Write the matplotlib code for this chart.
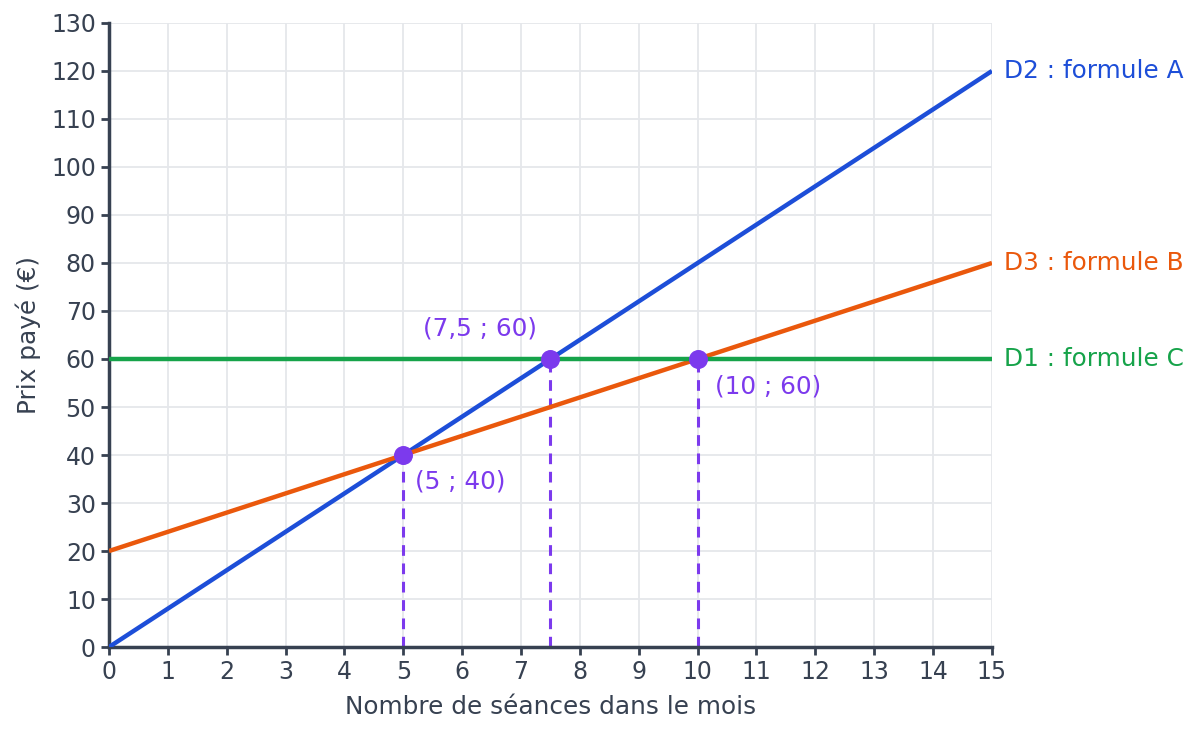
import numpy as np
import matplotlib
matplotlib.use('Agg')
import matplotlib.pyplot as plt

# Données
x_range = [0, 15]
droites = [
    ('D2 : formule A', 8, 0, '#1d4ed8'),
    ('D3 : formule B', 4, 20, '#ea580c'),
    ('D1 : formule C', 0, 60, '#16a34a'),
]
points_x = [5, 7.5, 10]
points_y = [40, 60, 60]
points_labels = ['(5 ; 40)', '(7,5 ; 60)', '(10 ; 60)']
label_pos = [(5.2, 34.4), (5.33, 66.3), (10.3, 54.2)]

axe_col = '#374151'
violet = '#7c3aed'
fs = 17.8

fig = plt.figure(figsize=(11.98, 7.34), dpi=100)
ax = fig.add_axes([0.091, 0.1185, 0.737, 0.8502])

xs = np.array(x_range)
for nom, a, b, col in droites:
    ys = a * xs + b
    ax.plot(xs, ys, color=col, lw=3.2, solid_capstyle='butt', zorder=3)
    ax.text(15.2, ys[-1], nom, color=col, fontsize=fs, va='center', ha='left', clip_on=False)

# pointillés verticaux vers l'axe des abscisses
for px, py in zip(points_x, points_y):
    ax.plot([px, px], [0, py], color=violet, lw=2.2, ls=(0, (3.5, 2.5)), zorder=2)
ax.scatter(points_x, points_y, s=160, color=violet, zorder=5)

for (lx, ly), txt in zip(label_pos, points_labels):
    ax.text(lx, ly, txt, color=violet, fontsize=fs, va='center', ha='left')

ax.set_xlim(0, 15)
ax.set_ylim(0, 130)
ax.set_xticks(range(0, 16))
ax.set_yticks(range(0, 131, 10))
ax.grid(True, color='#e5e7eb', lw=1.3, zorder=0)
ax.set_axisbelow(True)
for s in ['top', 'right']:
    ax.spines[s].set_visible(False)
for s in ['left', 'bottom']:
    ax.spines[s].set_color(axe_col)
    ax.spines[s].set_linewidth(2.5)
ax.tick_params(colors=axe_col, labelsize=17, length=6, width=2)
ax.set_xlabel('Nombre de séances dans le mois', fontsize=fs, color=axe_col, labelpad=8)
ax.set_ylabel('Prix payé (€)', fontsize=fs, color=axe_col, labelpad=7)

plt.savefig('out.png', dpi=100)
